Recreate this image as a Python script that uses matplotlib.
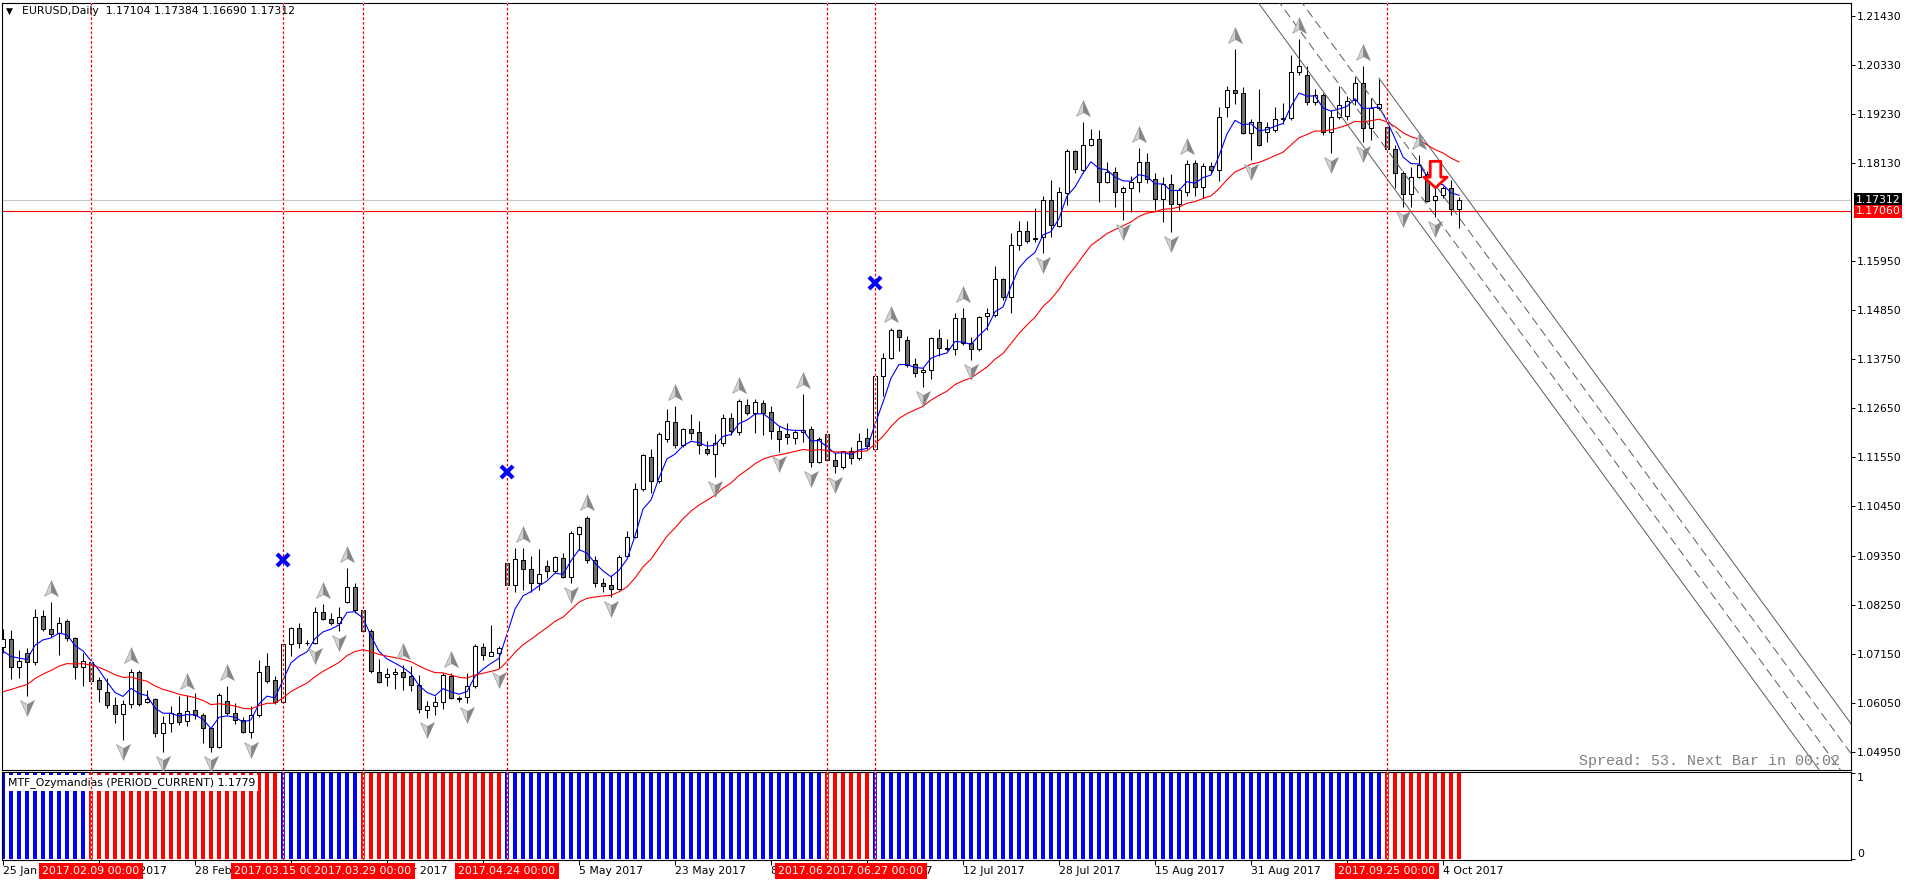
import matplotlib
matplotlib.use("Agg")
import matplotlib.pyplot as plt
import matplotlib.transforms as mtransforms
from matplotlib.path import Path
import numpy as np

# EURUSD daily, bar 0 = 25 Jan 2017, bar 182 = 6 Oct 2017
opens = [
    1.0731, 1.0748, 1.0685, 1.0716, 1.0696, 1.0799, 1.0771, 1.0761, 1.0788, 1.0751,
    1.0685, 1.0697, 1.0656, 1.0629, 1.0600, 1.0580, 1.0602, 1.0674, 1.0608, 1.0613,
    1.0537, 1.0559, 1.0582, 1.0564, 1.0589, 1.0577, 1.0548, 1.0507, 1.0609, 1.0582,
    1.0567, 1.0541, 1.0577, 1.0688, 1.0656, 1.0608, 1.0737, 1.0772, 1.0740, 1.0739,
    1.0808, 1.0794, 1.0783, 1.0830, 1.0864, 1.0813, 1.0765, 1.0674, 1.0663, 1.0669,
    1.0674, 1.0666, 1.0645, 1.0590, 1.0597, 1.0607, 1.0666, 1.0616, 1.0618, 1.0642,
    1.0730, 1.0711, 1.0716, 1.0918, 1.0868, 1.0925, 1.0904, 1.0873, 1.0911, 1.0900,
    1.0929, 1.0886, 1.0983, 1.1018, 1.0924, 1.0873, 1.0868, 1.0861, 1.0933, 1.0976,
    1.1083, 1.1156, 1.1101, 1.1195, 1.1235, 1.1183, 1.1218, 1.1211, 1.1173, 1.1162,
    1.1186, 1.1242, 1.1211, 1.1272, 1.1254, 1.1276, 1.1256, 1.1214, 1.1207, 1.1199,
    1.1211, 1.1218, 1.1144, 1.1207, 1.1149, 1.1133, 1.1169, 1.1153, 1.1198, 1.1174,
    1.1337, 1.1377, 1.1440, 1.1418, 1.1363, 1.1345, 1.1351, 1.1422, 1.1400, 1.1398,
    1.1466, 1.1410, 1.1397, 1.1472, 1.1474, 1.1554, 1.1513, 1.1630, 1.1661, 1.1645,
    1.1648, 1.1731, 1.1673, 1.1746, 1.1841, 1.1798, 1.1854, 1.1867, 1.1771, 1.1793,
    1.1748, 1.1757, 1.1771, 1.1817, 1.1777, 1.1733, 1.1767, 1.1722, 1.1750, 1.1813,
    1.1761, 1.1807, 1.1798, 1.1940, 1.1977, 1.1970, 1.1880, 1.1906, 1.1883, 1.1888,
    1.1912, 1.1914, 1.2018, 1.2012, 1.1950, 1.1965, 1.1883, 1.1916, 1.1918, 1.1954,
    1.1992, 1.1892, 1.1938, 1.1895, 1.1845, 1.1791, 1.1744, 1.1783, 1.1789, 1.1730,
    1.1742, 1.1757, 1.17104]
highs = [
    1.0770, 1.0768, 1.0724, 1.0727, 1.0815, 1.0812, 1.0832, 1.0798, 1.0793, 1.0753,
    1.0716, 1.0701, 1.0664, 1.0660, 1.0619, 1.0612, 1.0681, 1.0679, 1.0634, 1.0615,
    1.0576, 1.0598, 1.0621, 1.0623, 1.0627, 1.0582, 1.0552, 1.0627, 1.0642, 1.0604,
    1.0574, 1.0597, 1.0701, 1.0716, 1.0665, 1.0739, 1.0774, 1.0783, 1.0746, 1.0819,
    1.0826, 1.0806, 1.0819, 1.0906, 1.0874, 1.0815, 1.0770, 1.0704, 1.0683, 1.0683,
    1.0690, 1.0687, 1.0668, 1.0610, 1.0620, 1.0673, 1.0672, 1.0621, 1.0672, 1.0737,
    1.0739, 1.0780, 1.0733, 1.0919, 1.0951, 1.0951, 1.0934, 1.0949, 1.0925, 1.0934,
    1.0940, 1.0989, 1.1001, 1.1024, 1.0933, 1.0884, 1.0892, 1.0936, 1.0989, 1.1097,
    1.1162, 1.1173, 1.1212, 1.1262, 1.1270, 1.1220, 1.1252, 1.1236, 1.1191, 1.1207,
    1.1251, 1.1253, 1.1285, 1.1285, 1.1285, 1.1284, 1.1270, 1.1224, 1.1231, 1.1218,
    1.1297, 1.1224, 1.1200, 1.1209, 1.1164, 1.1169, 1.1177, 1.1210, 1.1220, 1.1339,
    1.1389, 1.1444, 1.1442, 1.1427, 1.1377, 1.1358, 1.1424, 1.1442, 1.1419, 1.1479,
    1.1489, 1.1425, 1.1471, 1.1489, 1.1583, 1.1556, 1.1657, 1.1683, 1.1683, 1.1712,
    1.1739, 1.1776, 1.1761, 1.1845, 1.1843, 1.1906, 1.1891, 1.1888, 1.1815, 1.1806,
    1.1762, 1.1785, 1.1847, 1.1837, 1.1791, 1.1783, 1.1789, 1.1757, 1.1821, 1.1821,
    1.1813, 1.1817, 1.1940, 1.1986, 1.2068, 1.1985, 1.1912, 1.1979, 1.1906, 1.1939,
    1.1948, 1.2056, 1.2091, 1.2030, 1.1979, 1.1970, 1.1933, 1.1986, 1.1964, 1.2007,
    1.2030, 1.1959, 1.2003, 1.1903, 1.1854, 1.1795, 1.1806, 1.1832, 1.1795, 1.1761,
    1.1762, 1.1776, 1.17384]
lows = [
    1.0716, 1.0658, 1.0660, 1.0621, 1.0690, 1.0765, 1.0753, 1.0712, 1.0744, 1.0658,
    1.0642, 1.0653, 1.0608, 1.0593, 1.0561, 1.0522, 1.0593, 1.0597, 1.0604, 1.0528,
    1.0494, 1.0539, 1.0556, 1.0554, 1.0570, 1.0516, 1.0496, 1.0504, 1.0578, 1.0558,
    1.0537, 1.0526, 1.0574, 1.0649, 1.0603, 1.0606, 1.0709, 1.0727, 1.0735, 1.0737,
    1.0791, 1.0779, 1.0765, 1.0828, 1.0806, 1.0765, 1.0673, 1.0649, 1.0643, 1.0636,
    1.0634, 1.0631, 1.0582, 1.0571, 1.0578, 1.0591, 1.0613, 1.0608, 1.0604, 1.0638,
    1.0701, 1.0709, 1.0683, 1.0866, 1.0853, 1.0857, 1.0854, 1.0858, 1.0884, 1.0895,
    1.0884, 1.0874, 1.0948, 1.0918, 1.0864, 1.0854, 1.0842, 1.0858, 1.0929, 1.0974,
    1.1080, 1.1076, 1.1097, 1.1190, 1.1175, 1.1177, 1.1194, 1.1162, 1.1160, 1.1110,
    1.1180, 1.1205, 1.1205, 1.1250, 1.1209, 1.1205, 1.1195, 1.1166, 1.1185, 1.1185,
    1.1190, 1.1133, 1.1142, 1.1148, 1.1119, 1.1128, 1.1140, 1.1148, 1.1173, 1.1172,
    1.1292, 1.1375, 1.1392, 1.1358, 1.1334, 1.1312, 1.1330, 1.1381, 1.1392, 1.1383,
    1.1407, 1.1372, 1.1394, 1.1440, 1.1470, 1.1507, 1.1479, 1.1619, 1.1634, 1.1638,
    1.1612, 1.1649, 1.1670, 1.1720, 1.1792, 1.1792, 1.1852, 1.1727, 1.1768, 1.1716,
    1.1686, 1.1704, 1.1750, 1.1768, 1.1709, 1.1682, 1.1660, 1.1709, 1.1739, 1.1739,
    1.1735, 1.1791, 1.1774, 1.1916, 1.1946, 1.1879, 1.1821, 1.1851, 1.1862, 1.1884,
    1.1901, 1.1910, 1.2011, 1.1944, 1.1944, 1.1877, 1.1836, 1.1912, 1.1910, 1.1944,
    1.1860, 1.1866, 1.1933, 1.1843, 1.1757, 1.1716, 1.1716, 1.1780, 1.1727, 1.1694,
    1.1735, 1.1698, 1.16690]
closes = [
    1.0748, 1.0685, 1.0698, 1.0696, 1.0798, 1.0770, 1.0759, 1.0783, 1.0750, 1.0685,
    1.0698, 1.0655, 1.0637, 1.0600, 1.0580, 1.0602, 1.0674, 1.0602, 1.0613, 1.0537,
    1.0559, 1.0582, 1.0562, 1.0586, 1.0577, 1.0548, 1.0507, 1.0623, 1.0582, 1.0567,
    1.0541, 1.0577, 1.0674, 1.0655, 1.0608, 1.0736, 1.0772, 1.0739, 1.0739, 1.0808,
    1.0794, 1.0783, 1.0798, 1.0864, 1.0812, 1.0766, 1.0676, 1.0651, 1.0670, 1.0675,
    1.0664, 1.0644, 1.0591, 1.0597, 1.0607, 1.0668, 1.0616, 1.0614, 1.0642, 1.0733,
    1.0713, 1.0719, 1.0727, 1.0868, 1.0927, 1.0904, 1.0873, 1.0893, 1.0900, 1.0931,
    1.0886, 1.0985, 1.0998, 1.0925, 1.0873, 1.0866, 1.0861, 1.0931, 1.0976, 1.1083,
    1.1159, 1.1101, 1.1207, 1.1237, 1.1183, 1.1218, 1.1210, 1.1183, 1.1164, 1.1186,
    1.1242, 1.1214, 1.1280, 1.1254, 1.1278, 1.1255, 1.1214, 1.1195, 1.1201, 1.1211,
    1.1216, 1.1144, 1.1195, 1.1149, 1.1136, 1.1168, 1.1153, 1.1192, 1.1181, 1.1337,
    1.1377, 1.1440, 1.1424, 1.1362, 1.1343, 1.1351, 1.1421, 1.1399, 1.1397, 1.1466,
    1.1410, 1.1397, 1.1468, 1.1477, 1.1554, 1.1513, 1.1630, 1.1661, 1.1640, 1.1643,
    1.1731, 1.1675, 1.1748, 1.1841, 1.1800, 1.1854, 1.1867, 1.1771, 1.1793, 1.1750,
    1.1757, 1.1771, 1.1817, 1.1777, 1.1733, 1.1767, 1.1722, 1.1754, 1.1811, 1.1761,
    1.1807, 1.1798, 1.1916, 1.1977, 1.1970, 1.1880, 1.1906, 1.1854, 1.1894, 1.1912,
    1.1914, 1.2018, 1.2030, 1.1950, 1.1965, 1.1883, 1.1916, 1.1944, 1.1953, 1.1992,
    1.1892, 1.1938, 1.1945, 1.1845, 1.1791, 1.1744, 1.1783, 1.1810, 1.1729, 1.1741,
    1.1757, 1.1710, 1.17312]

# moving average values at the first visible bar
fast_seed = 1.0721
slow_seed = 1.0630

# fractal arrows
up_fractals = [6, 16, 23, 28, 40, 43, 50, 56, 65, 73, 84, 92, 100, 111, 120,
               135, 142, 148, 154, 162, 170, 177]
down_fractals = [3, 15, 20, 26, 31, 39, 42, 53, 58, 62, 71, 76, 89, 97, 101, 104,
                 115, 121, 130, 140, 146, 156, 166, 170, 175, 179]

# blue crosses and red sell arrow
cross_bars = [35, 63, 109]
cross_prices = [1.0925, 1.1122, 1.1545]
sell_bar = 179
sell_price = 1.1789

# vertical lines (trend switches)
vline_bars = [11, 35, 45, 63, 103, 109, 173]
vline_labels = ["2017.02.09 00:00", "2017.03.15 00:00", "2017.03.29 00:00",
                "2017.04.24 00:00", "2017.06.19 00:00", "2017.06.27 00:00",
                "2017.09.25 00:00"]

# MTF_Ozymandias trend: (first bar, last bar, direction)
trend_segments = [(0, 10, 1), (11, 34, -1), (35, 44, 1), (45, 62, -1),
                  (63, 102, 1), (103, 108, -1), (109, 172, 1), (173, 182, -1)]

date_ticks = [0, 12, 24, 36, 48, 60, 72, 84, 96, 108, 120, 132, 144, 156, 168, 180]
date_labels = ["25 Jan 2017", "10 Feb 2017", "28 Feb 2017", "16 Mar 2017",
               "3 Apr 2017", "19 Apr 2017", "5 May 2017", "23 May 2017",
               "8 Jun 2017", "26 Jun 2017", "12 Jul 2017", "28 Jul 2017",
               "15 Aug 2017", "31 Aug 2017", "18 Sep 2017", "4 Oct 2017"]

price_ticks = [1.21430, 1.20330, 1.19230, 1.18130, 1.15950, 1.14850, 1.13750,
               1.12650, 1.11550, 1.10450, 1.09350, 1.08250, 1.07150, 1.06050, 1.04950]

bid_price = 1.17312
hline_price = 1.17060

# channel: (start bar, price at bar 172, style), common slope per bar
channel_slope = -0.00245
channel = [(145, 1.1803, "-"), (145, 1.1868, "--"), (145, 1.1937, "--"), (172, 1.2004, "-")]


def ema(values, period, seed):
    k = 2.0 / (period + 1)
    out = [seed]
    for v in values[1:]:
        out.append(out[-1] + k * (v - out[-1]))
    return out


FS = 7.8
W, H = 1910, 884
fig = plt.figure(figsize=(W / 100, H / 100), dpi=100)
fig.patch.set_facecolor("white")
ax = fig.add_axes([2 / W, (H - 770) / H, 1849 / W, 767 / H])
sub = fig.add_axes([2 / W, (H - 860) / H, 1849 / W, 88 / H])

o = np.array(opens)
h = np.array(highs)
l = np.array(lows)
c = np.array(closes)
x = np.arange(len(o))

for a in (ax, sub):
    a.set_xlim(-0.125, 231)
    for s in a.spines.values():
        s.set_color("black")
        s.set_linewidth(0.8)
ax.set_ylim(1.04548, 1.21721)
sub.set_ylim(-0.015, 1.015)

# candles
ax.vlines(x, l, h, color="black", lw=0.75, zorder=2)
bull = c >= o
ax.bar(x, np.maximum(np.abs(c - o), 0.00002), 0.6, bottom=np.minimum(o, c),
       color=np.where(bull, "white", "#707070"), edgecolor="black", linewidth=0.75, zorder=3)

# moving averages
ax.plot(x, ema(closes, 5, fast_seed), color="#0000ff", lw=0.8, zorder=4)
ax.plot(x, ema(closes, 21, slow_seed), color="#ff0000", lw=0.8, zorder=4)

# horizontal lines
ax.axhline(bid_price, color="#c8c8c8", lw=0.8, zorder=1)
ax.axhline(hline_price, color="#ff0000", lw=0.8, zorder=1.5)

# channel
for start, p172, st in channel:
    bx = np.array([start, 240])
    ls = "-" if st == "-" else (0, (9, 5))
    ax.plot(bx, p172 + channel_slope * (bx - 172), color="#5a5a5a", lw=0.7, ls=ls, zorder=4.5)

# vertical lines
for b in vline_bars:
    for a in (ax, sub):
        a.axvline(b, color="white", lw=0.9, zorder=5)
        a.axvline(b, color="#ff0000", lw=0.9, ls=(0, (2.2, 1.6)), zorder=5.1)

# fractal arrows (two-tone arrowheads)
M, L, C = Path.MOVETO, Path.LINETO, Path.CLOSEPOLY
left_half = [(0, 1), (0, -0.35), (-0.8, -0.8), (0, 1)]
right_half = [(0, 1), (0.8, -0.8), (0, -0.35), (0, 1)]
codes = [M, L, L, C]
up_l = Path(left_half, codes)
up_r = Path(right_half, codes)
dn_l = Path([(px, -py) for px, py in left_half], codes)
dn_r = Path([(px, -py) for px, py in right_half], codes)
tr_up = mtransforms.offset_copy(ax.transData, fig=fig, x=0, y=13, units="dots")
tr_dn = mtransforms.offset_copy(ax.transData, fig=fig, x=0, y=-11, units="dots")
ub = np.array(up_fractals)
db = np.array(down_fractals)
for mk, col in ((up_l, "#d2d2d2"), (up_r, "#858585")):
    ax.plot(ub, h[ub], ls="none", marker=mk, ms=12.5, mfc=col, mec="#8a8a8a",
            mew=0.4, transform=tr_up, zorder=6)
for mk, col in ((dn_l, "#d2d2d2"), (dn_r, "#858585")):
    ax.plot(db, l[db], ls="none", marker=mk, ms=12.5, mfc=col, mec="#8a8a8a",
            mew=0.4, transform=tr_dn, zorder=6)

# blue crosses
ax.plot(cross_bars, cross_prices, ls="none", marker="x", ms=8.5, mew=3,
        color="#0000ff", zorder=6)

# sell arrow
sell_path = Path([(-0.4, 1), (0.4, 1), (0.4, -0.2), (0.88, -0.2), (0, -1),
                  (-0.88, -0.2), (-0.4, -0.2), (-0.4, 1)],
                 [M, L, L, L, L, L, L, C])
ax.plot([sell_bar], [sell_price], ls="none", marker=sell_path, ms=19,
        mfc="white", mec="#ff0000", mew=2, zorder=6)

# price axis
ax.yaxis.tick_right()
ax.set_yticks(price_ticks)
ax.set_yticklabels([f"{p:.5f}" for p in price_ticks])
ax.tick_params(axis="y", direction="out", length=2.9, width=0.7, pad=1.4, labelsize=FS)
ax.tick_params(axis="x", bottom=False, labelbottom=False)

blend = mtransforms.blended_transform_factory(ax.transAxes, ax.transData)
ax.text(1.0025, bid_price, "1.17312", transform=blend, ha="left", va="center",
        color="white", fontsize=FS, clip_on=False, zorder=10,
        bbox=dict(boxstyle="square,pad=0.15", fc="black", ec="none"))
ax.text(1.0025, hline_price, "1.17060", transform=blend, ha="left", va="center",
        color="white", fontsize=FS, clip_on=False, zorder=11,
        bbox=dict(boxstyle="square,pad=0.15", fc="#ff0000", ec="none"))

# indicator window
trend = np.zeros(len(o))
for a0, a1, d in trend_segments:
    trend[a0:a1 + 1] = d
sub.bar(x, 1, width=0.42, color=np.where(trend > 0, "#0000ff", "#ff0000"), zorder=2)
sub.yaxis.tick_right()
sub.set_yticks([0, 1])
sub.set_yticklabels(["0", "1"])
sub.tick_params(axis="y", direction="out", length=2.9, width=0.7, pad=1.4, labelsize=FS)
for lbl, va in zip(sub.get_yticklabels(), ["bottom", "top"]):
    lbl.set_va(va)
sub.set_xticks(date_ticks)
sub.set_xticklabels(date_labels)
sub.tick_params(axis="x", direction="out", length=3.6, width=0.7, pad=1, labelsize=FS)
for lbl in sub.get_xticklabels():
    lbl.set_ha("left")

sub.text(8 / W, 1 - 783 / H, "MTF_Ozymandias (PERIOD_CURRENT) 1.1779",
         transform=fig.transFigure, ha="left", va="center", fontsize=FS, zorder=4,
         bbox=dict(boxstyle="square,pad=0.2", fc="white", ec="none"))

sblend = mtransforms.blended_transform_factory(sub.transData, sub.transAxes)
for b, s in zip(vline_bars, vline_labels):
    sub.text(b, -0.125, s, transform=sblend, ha="center", va="center", color="white",
             fontsize=FS, clip_on=False, zorder=10,
             bbox=dict(boxstyle="square,pad=0.3", fc="#ff0000", ec="none"))

# header and info text
fig.text(6 / W, 1 - 11 / H, "\u25bc", fontsize=6.5, ha="left", va="center")
fig.text(22 / W, 1 - 11 / H, "EURUSD,Daily  1.17104 1.17384 1.16690 1.17312",
         fontsize=FS, ha="left", va="center")
fig.text(1840 / W, 1 - 765 / H, "Spread: 53. Next Bar in 00:02", ha="right",
         va="baseline", family="Liberation Mono", fontsize=10.8, color="#808080")

fig.savefig("out.png", dpi=100, facecolor="white")
